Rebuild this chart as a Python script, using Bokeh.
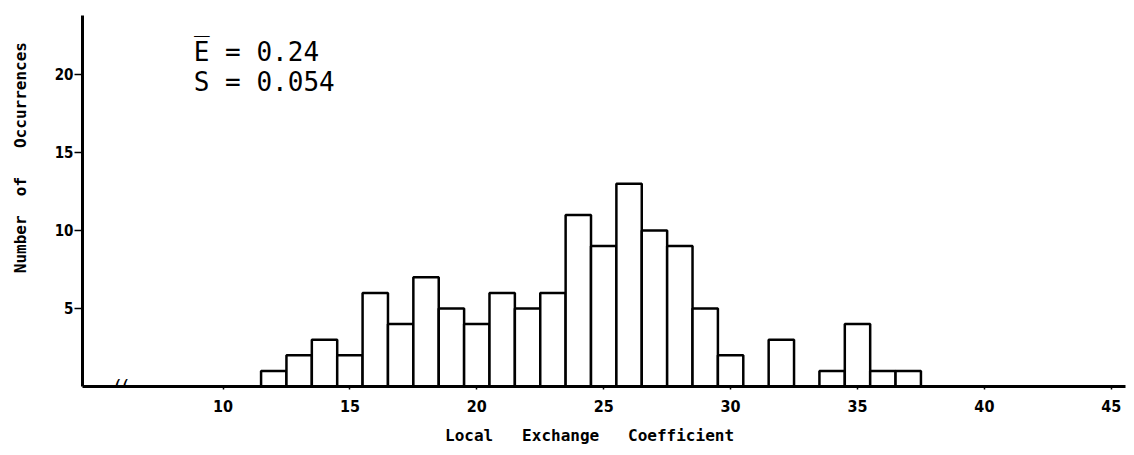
from bokeh.plotting import figure
from bokeh.models import Range1d, FixedTicker, Label
from bokeh.embed import file_html
from bokeh.resources import INLINE

# Data
bin_centers = [12, 13, 14, 15, 16, 17, 18, 19, 20, 21, 22, 23, 24, 25, 26, 27, 28, 29, 30, 32, 34, 35, 36, 37]
counts      = [1,  2,  3,  2,  6,  4,  7,  5,  4,  6,  5,  6,  11, 9,  13, 10, 9,  5,  2,  3,  1,  4,  1,  1]
x_ticks = [10, 15, 20, 25, 30, 35, 40, 45]
y_ticks = [5, 10, 15, 20]
mean_text = "E\u0305 = 0.24"
sd_text = "S = 0.054"
NB = "\u00a0"
x_label = "Local" + NB * 3 + "Exchange" + NB * 3 + "Coefficient" + NB * 3
y_label = NB * 9 + "Number" + NB * 2 + "of" + NB * 3 + "Occurrences"

TICK_FONT = "DejaVu Sans Condensed"
LABEL_FONT = "DejaVu Sans Mono"

p = figure(width=1126, height=447, output_backend="svg", toolbar_location=None,
           x_range=Range1d(4.464, 45.56), y_range=Range1d(0, 23.78),
           min_border_left=82, min_border_right=1, min_border_top=15, min_border_bottom=61)
p.outline_line_color = None
p.grid.visible = False
p.background_fill_color = "white"

p.vbar(x=bin_centers, top=counts, bottom=0, width=1.0,
       fill_color="white", line_color="black", line_width=2.5)

# axes
p.xaxis.ticker = FixedTicker(ticks=x_ticks)
p.yaxis.ticker = FixedTicker(ticks=y_ticks)
for ax in (p.xaxis, p.yaxis):
    ax.axis_line_width = 3
    ax.axis_line_color = "black"
    ax.minor_tick_line_color = None
    ax.major_tick_line_color = "black"
    ax.major_tick_line_width = 1.5
    ax.major_tick_in = 0
    ax.major_label_text_font = TICK_FONT
    ax.major_label_text_font_style = "bold"
    ax.major_label_text_color = "black"
    ax.axis_label_text_font = LABEL_FONT
    ax.axis_label_text_font_style = "bold"
    ax.axis_label_text_color = "black"

p.xaxis.major_tick_out = 3
p.xaxis.major_label_standoff = 10
p.xaxis.major_label_text_font_size = "16px"
p.xaxis.axis_label = x_label
p.xaxis.axis_label_text_font_size = "16px"
p.xaxis.axis_label_standoff = 11

p.yaxis.major_tick_out = 8
p.yaxis.major_label_standoff = 1
p.yaxis.major_label_text_font_size = "15px"
p.yaxis.axis_label = y_label
p.yaxis.axis_label_text_font_size = "16px"
p.yaxis.axis_label_standoff = 22

# annotations
p.add_layout(Label(x=8.85, y=21.45, text=mean_text, text_font="DejaVu Sans Mono",
                   text_font_size="26px", text_color="black", text_baseline="alphabetic"))
p.add_layout(Label(x=8.85, y=19.5, text=sd_text, text_font="DejaVu Sans Mono",
                   text_font_size="26px", text_color="black", text_baseline="alphabetic"))
# axis break marker
p.add_layout(Label(x=6.0, y=0, text="((", text_font="DejaVu Sans",
                   text_font_size="20px", text_color="black", text_baseline="middle",
                   text_align="center"))

open("out.html", "w").write(file_html(p, INLINE))
